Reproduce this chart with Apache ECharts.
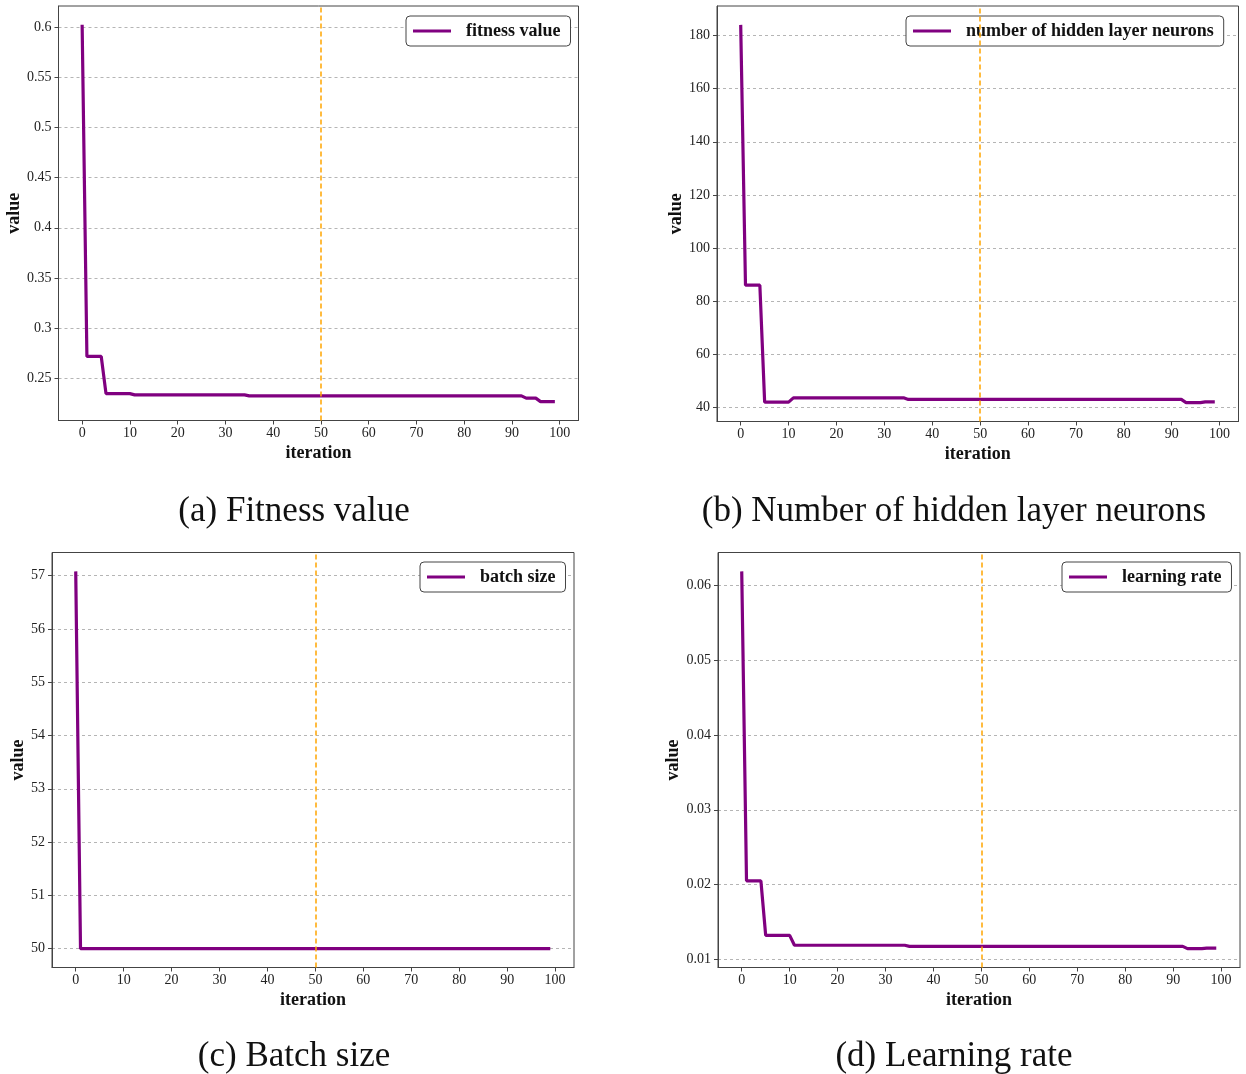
<!DOCTYPE html>
<html>
<head>
<meta charset="utf-8">
<script src="https://cdn.jsdelivr.net/npm/echarts@6/dist/echarts.min.js"></script>
<style>
  html, body { margin: 0; padding: 0; background: #fff; }
  #chart { width: 1246px; height: 1074px; }
</style>
</head>
<body>
<div id="chart"></div>
<script>
// Best value found at each of the 100 optimisation iterations (0..99)
const fitnessValue = [
  0.602, 0.272, 0.272, 0.272, 0.272, 0.235, 0.235, 0.235, 0.235, 0.235,
  0.235, 0.2338, 0.2338, 0.2338, 0.2338, 0.2338, 0.2338, 0.2338, 0.2338, 0.2338,
  0.2338, 0.2338, 0.2338, 0.2338, 0.2338, 0.2338, 0.2338, 0.2338, 0.2338, 0.2338,
  0.2338, 0.2338, 0.2338, 0.2338, 0.2338, 0.2328, 0.2328, 0.2328, 0.2328, 0.2328,
  0.2328, 0.2328, 0.2328, 0.2328, 0.2328, 0.2328, 0.2328, 0.2328, 0.2328, 0.2328,
  0.2328, 0.2328, 0.2328, 0.2328, 0.2328, 0.2328, 0.2328, 0.2328, 0.2328, 0.2328,
  0.2328, 0.2328, 0.2328, 0.2328, 0.2328, 0.2328, 0.2328, 0.2328, 0.2328, 0.2328,
  0.2328, 0.2328, 0.2328, 0.2328, 0.2328, 0.2328, 0.2328, 0.2328, 0.2328, 0.2328,
  0.2328, 0.2328, 0.2328, 0.2328, 0.2328, 0.2328, 0.2328, 0.2328, 0.2328, 0.2328,
  0.2328, 0.2328, 0.2328, 0.2305, 0.2305, 0.2305, 0.227, 0.227, 0.227, 0.227
];
const hiddenNeurons = [
  184, 86, 86, 86, 86, 42, 42, 42, 42, 42,
  42, 43.6, 43.6, 43.6, 43.6, 43.6, 43.6, 43.6, 43.6, 43.6,
  43.6, 43.6, 43.6, 43.6, 43.6, 43.6, 43.6, 43.6, 43.6, 43.6,
  43.6, 43.6, 43.6, 43.6, 43.6, 43, 43, 43, 43, 43,
  43, 43, 43, 43, 43, 43, 43, 43, 43, 43,
  43, 43, 43, 43, 43, 43, 43, 43, 43, 43,
  43, 43, 43, 43, 43, 43, 43, 43, 43, 43,
  43, 43, 43, 43, 43, 43, 43, 43, 43, 43,
  43, 43, 43, 43, 43, 43, 43, 43, 43, 43,
  43, 43, 43, 41.8, 41.8, 41.8, 41.8, 42.1, 42.1, 42.1
];
const batchSize = [
  57.08, 50, 50, 50, 50, 50, 50, 50, 50, 50,
  50, 50, 50, 50, 50, 50, 50, 50, 50, 50,
  50, 50, 50, 50, 50, 50, 50, 50, 50, 50,
  50, 50, 50, 50, 50, 50, 50, 50, 50, 50,
  50, 50, 50, 50, 50, 50, 50, 50, 50, 50,
  50, 50, 50, 50, 50, 50, 50, 50, 50, 50,
  50, 50, 50, 50, 50, 50, 50, 50, 50, 50,
  50, 50, 50, 50, 50, 50, 50, 50, 50, 50,
  50, 50, 50, 50, 50, 50, 50, 50, 50, 50,
  50, 50, 50, 50, 50, 50, 50, 50, 50, 50
];
const learningRate = [
  0.0619, 0.0205, 0.0205, 0.0205, 0.0205, 0.0132, 0.0132, 0.0132, 0.0132, 0.0132,
  0.0132, 0.01187, 0.01187, 0.01187, 0.01187, 0.01187, 0.01187, 0.01187, 0.01187, 0.01187,
  0.01187, 0.01187, 0.01187, 0.01187, 0.01187, 0.01187, 0.01187, 0.01187, 0.01187, 0.01187,
  0.01187, 0.01187, 0.01187, 0.01187, 0.01187, 0.01173, 0.01173, 0.01173, 0.01173, 0.01173,
  0.01173, 0.01173, 0.01173, 0.01173, 0.01173, 0.01173, 0.01173, 0.01173, 0.01173, 0.01173,
  0.01173, 0.01173, 0.01173, 0.01173, 0.01173, 0.01173, 0.01173, 0.01173, 0.01173, 0.01173,
  0.01173, 0.01173, 0.01173, 0.01173, 0.01173, 0.01173, 0.01173, 0.01173, 0.01173, 0.01173,
  0.01173, 0.01173, 0.01173, 0.01173, 0.01173, 0.01173, 0.01173, 0.01173, 0.01173, 0.01173,
  0.01173, 0.01173, 0.01173, 0.01173, 0.01173, 0.01173, 0.01173, 0.01173, 0.01173, 0.01173,
  0.01173, 0.01173, 0.01173, 0.01142, 0.01142, 0.01142, 0.01142, 0.0115, 0.0115, 0.0115
];

// Tick labels
const iterationTicks = [0, 10, 20, 30, 40, 50, 60, 70, 80, 90, 100];
const fitnessTicks = [0.25, 0.3, 0.35, 0.4, 0.45, 0.5, 0.55, 0.6];
const neuronTicks = [40, 60, 80, 100, 120, 140, 160, 180];
const batchTicks = [50, 51, 52, 53, 54, 55, 56, 57];
const lrTicks = [0.01, 0.02, 0.03, 0.04, 0.05, 0.06];

// Iteration at which the vertical reference line is drawn
const markIteration = 50;

const SERIF = '"Liberation Serif", "Times New Roman", serif';
const LINE_COLOR = '#800080';

const panels = [
  { name: 'fitness value', values: fitnessValue, ticks: fitnessTicks,
    grid: { left: 58.5, top: 6, width: 520, height: 414.5 }, yGap: 35,
    legend: { left: 406, top: 16 },
    caption: '(a) Fitness value', capX: 294, capY: 512 },
  { name: 'number of hidden layer neurons', values: hiddenNeurons, ticks: neuronTicks,
    grid: { left: 717, top: 6, width: 521.5, height: 415.5 }, yGap: 32,
    legend: { left: 906, top: 16 },
    caption: '(b) Number of hidden layer neurons', capX: 954, capY: 512 },
  { name: 'batch size', values: batchSize, ticks: batchTicks,
    grid: { left: 52, top: 552.5, width: 522, height: 415 }, yGap: 25,
    legend: { left: 420, top: 562 },
    caption: '(c) Batch size', capX: 294, capY: 1057 },
  { name: 'learning rate', values: learningRate, ticks: lrTicks,
    grid: { left: 718, top: 552.5, width: 522, height: 415 }, yGap: 35,
    legend: { left: 1062, top: 562 },
    caption: '(d) Learning rate', capX: 954, capY: 1057 }
];

// Axis limits padded by 5% of the data span on each side
function padded(arr) {
  const lo = Math.min(...arr), hi = Math.max(...arr);
  const pad = (hi - lo) * 0.05;
  return { min: lo - pad, max: hi + pad };
}
const xRange = padded([0, fitnessValue.length - 1]);

const axisLineStyle = { color: '#444', width: 1 };
const tickLabelStyle = { fontFamily: SERIF, fontSize: 14, color: '#222' };
const nameStyle = { fontFamily: SERIF, fontSize: 18, fontWeight: 'bold', color: '#111' };

const option = {
  backgroundColor: '#fff',
  animation: false,
  grid: panels.map(p => Object.assign({
    show: true, borderColor: '#444', borderWidth: 1, backgroundColor: '#fff',
    containLabel: false
  }, p.grid)),
  xAxis: panels.map((p, i) => ({
    type: 'value', gridIndex: i, min: xRange.min, max: xRange.max,
    name: 'iteration', nameLocation: 'middle', nameGap: 24, nameTextStyle: nameStyle,
    axisLine: { show: true, onZero: false, lineStyle: axisLineStyle },
    axisTick: { show: true, inside: false, length: 4, lineStyle: axisLineStyle, customValues: iterationTicks },
    axisLabel: Object.assign({ margin: 6, customValues: iterationTicks }, tickLabelStyle),
    splitLine: { show: false }
  })),
  yAxis: panels.map((p, i) => {
    const r = padded(p.values);
    return {
      type: 'value', gridIndex: i, min: r.min, max: r.max,
      name: 'value', nameLocation: 'middle', nameGap: p.yGap, nameTextStyle: nameStyle,
      axisLine: { show: true, onZero: false, lineStyle: axisLineStyle },
      axisTick: { show: true, inside: false, length: 4, lineStyle: axisLineStyle, customValues: p.ticks },
      axisLabel: Object.assign({ margin: 7, customValues: p.ticks }, tickLabelStyle),
      splitLine: { show: true, lineStyle: { color: '#b5b5b5', type: [3, 3], width: 1 } }
    };
  }),
  legend: panels.map(p => ({
    data: [p.name], left: p.legend.left, top: p.legend.top,
    orient: 'horizontal',
    icon: 'rect', itemWidth: 38, itemHeight: 3,
    backgroundColor: '#fff', borderColor: '#444', borderWidth: 1, borderRadius: 4,
    padding: [6, 10, 6, 7],
    selectedMode: false,
    textStyle: { fontFamily: SERIF, fontSize: 18, fontWeight: 'bold', color: '#111', padding: [0, 0, 0, 10] }
  })),
  series: panels.map((p, i) => ({
    name: p.name, type: 'line', xAxisIndex: i, yAxisIndex: i,
    data: p.values.map((v, k) => [k, v]),
    showSymbol: false, symbol: 'none',
    lineStyle: { color: LINE_COLOR, width: 3.2 },
    itemStyle: { color: LINE_COLOR },
    markLine: {
      silent: true, symbol: 'none', label: { show: false },
      lineStyle: { color: '#FFA500', type: [5, 3], width: 1.5 },
      data: [{ xAxis: markIteration }]
    }
  })),
  graphic: panels.map(p => ({
    type: 'text', x: p.capX, y: p.capY,
    style: { text: p.caption, font: '35px ' + SERIF, fill: '#111', align: 'center', verticalAlign: 'middle' }
  }))
};

const chart = echarts.init(document.getElementById('chart'), null, { renderer: 'canvas' });
chart.setOption(option);
</script>
</body>
</html>
